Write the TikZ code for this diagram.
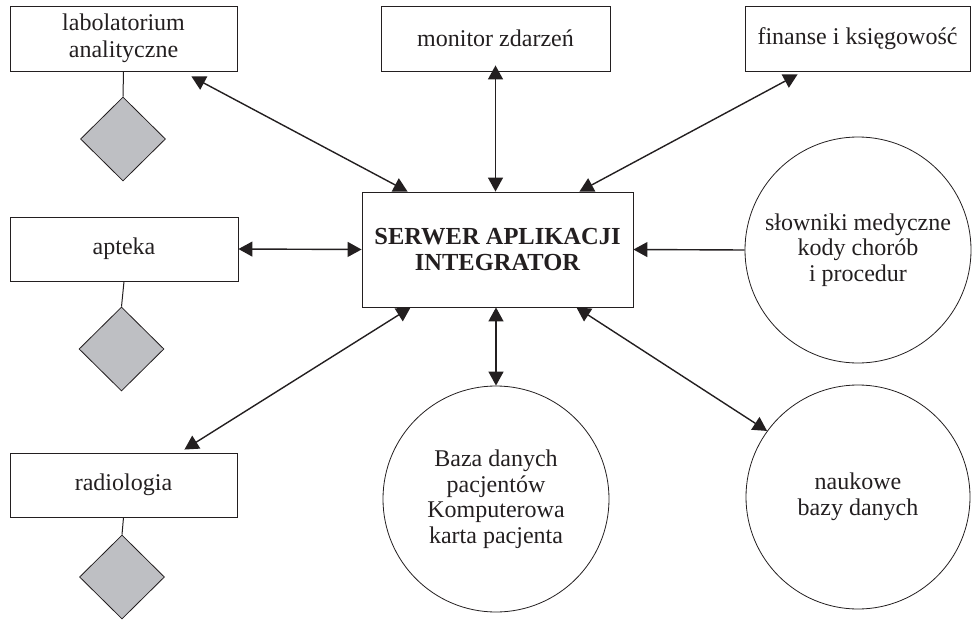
\documentclass[tikz,border=0pt]{standalone}
\usepackage{fontspec}
\setmainfont{Liberation Serif}
\usetikzlibrary{shapes.geometric,arrows.meta,calc}
\definecolor{ink}{RGB}{35,31,32}
\definecolor{dfill}{RGB}{190,191,195}
\begin{document}
\begin{tikzpicture}[x=1pt,y=-1pt,
  every node/.style={font=\fontsize{24}{27}\selectfont, text=ink},
  box/.style={draw=ink, line width=0.9pt, rectangle, inner sep=0pt, align=center},
  circ/.style={draw=ink, line width=0.8pt, circle, inner sep=0pt, align=center},
  dia/.style={draw=ink, line width=0.8pt, diamond, fill=dfill, inner sep=0pt, minimum width=85pt, minimum height=84pt},
  conn/.style={draw=ink, line width=1.4pt},
  tipx/.tip={Triangle[length=14pt,width=15pt]},
  biarrow/.style={conn, tipx-tipx},
  oarrow/.style={conn, -tipx}]
\useasboundingbox (0,0) rectangle (972,621);
% boxes
\node[box, minimum width=227pt, minimum height=65pt] (lab) at (123.5,38.5) {labolatorium\\analityczne};
\node[box, minimum width=229pt, minimum height=65pt] (mon) at (495.5,38.5) {monitor zdarzeń};
\node[box, minimum width=225pt, minimum height=65pt] (fin) at (857.5,38.5) {finanse i księgowość};
\node[box, minimum width=271pt, minimum height=115pt, font=\fontsize{24.5}{26}\selectfont\bfseries] (srv) at (497.5,249.5) {SERWER APLIKACJI\\INTEGRATOR};
\node[box, minimum width=228pt, minimum height=64pt] (apt) at (124,249) {apteka};
\node[box, minimum width=227pt, minimum height=64pt] (rad) at (123.5,485) {radiologia};
% diamonds
\node[dia] (d1) at (123,139) {};
\node[dia] (d2) at (121.5,349) {};
\node[dia] (d3) at (122,577) {};
% circles
\node[circ, minimum size=226pt, font=\fontsize{24}{25.5}\selectfont] (slow) at (858,250) {słowniki medyczne\\kody chorób\\i procedur};
\node[circ, minimum size=226pt, font=\fontsize{24}{25.5}\selectfont] (baza) at (496,499) {Baza danych\\pacjentów\\Komputerowa\\karta pacjenta};
\node[circ, minimum size=224pt, font=\fontsize{24}{25.5}\selectfont] (nauk) at (858,497) {naukowe\\bazy danych};
% diamond links
\draw[conn, line width=1pt] (lab.south) -- (d1.north);
\draw[conn, line width=1pt] (apt.south) -- (d2.north);
\draw[conn, line width=1pt] (rad.south) -- (d3.north);
% arrows
\draw[biarrow] ([shift={(-46,5)}]lab.south east) -- ([shift={(46,0)}]srv.north west);
\draw[biarrow] ([yshift=6]mon.south) -- (mon.south |- srv.north);
\draw[biarrow] ([shift={(-54,0)}]srv.north east) -- ([shift={(53,3)}]fin.south west);
\draw[biarrow] (apt.east) -- (srv.west);
\draw[oarrow] (slow.west) -- (srv.east);
\draw[biarrow] ([shift={(49,0)}]srv.south west) -- ([shift={(-53,-3)}]rad.north east);
\draw[biarrow] (baza.north |- srv.south) -- (baza.north);
\draw[biarrow] ([shift={(-57,0)}]srv.south east) -- (nauk.144);
\end{tikzpicture}
\end{document}
